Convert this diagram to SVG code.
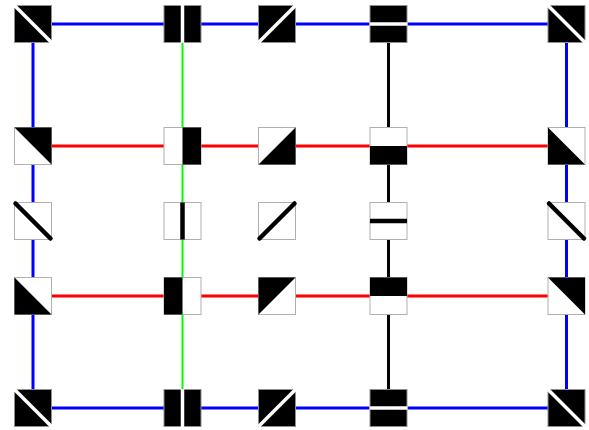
<svg xmlns="http://www.w3.org/2000/svg" xmlns:xlink="http://www.w3.org/1999/xlink" width="589" height="430" viewBox="0 0 589 430">
<style>
.bg{fill:#fff}
.wire{fill:none;stroke-linecap:butt}
.blue{stroke:#0000ff;stroke-width:3}
.red{stroke:#ff0000;stroke-width:3}
.green{stroke:#00ff00;stroke-width:2}
.black{stroke:#000;stroke-width:3}
.fw{fill:#fff;stroke:#b0b0b0;stroke-width:1}
.fb{fill:#000;stroke:#909090;stroke-width:1}
.tri{fill:#000}
.gap{stroke:#fff;stroke-width:3.5}
.bar{stroke:#000;stroke-width:4.5}
.dbar{stroke:#000;stroke-width:4.5;stroke-linecap:round}
</style>
<defs>
<g id="bBack"><rect class="fb" x="0.5" y="0.5" width="37" height="37"/><line class="gap" x1="0" y1="0" x2="38" y2="38"/></g>
<g id="bVgap"><rect class="fb" x="0.5" y="0.5" width="37" height="37"/><line class="gap" x1="19" y1="0" x2="19" y2="38"/></g>
<g id="bFwd"><rect class="fb" x="0.5" y="0.5" width="37" height="37"/><line class="gap" x1="0" y1="38" x2="38" y2="0"/></g>
<g id="bHgap"><rect class="fb" x="0.5" y="0.5" width="37" height="37"/><line class="gap" x1="0" y1="19" x2="38" y2="19"/></g>
</defs>
<rect class="bg" x="0" y="0" width="589" height="430"/>
<g id="connectors">
<line class="wire blue" x1="33" y1="24" x2="566.5" y2="24"/>
<line class="wire blue" x1="33" y1="408" x2="566.5" y2="408"/>
<line class="wire blue" x1="33" y1="24" x2="33" y2="408"/>
<line class="wire blue" x1="566.5" y1="24" x2="566.5" y2="408"/>
<line class="wire red" x1="33" y1="146" x2="566.5" y2="146"/>
<line class="wire red" x1="33" y1="296" x2="566.5" y2="296"/>
<line class="wire green" x1="182.5" y1="24" x2="182.5" y2="408"/>
<line class="wire black" x1="388.5" y1="24" x2="388.5" y2="408"/>
</g>
<!-- row 1 -->
<g id="n11" transform="translate(14,5)"><use xlink:href="#bBack"/></g>
<g id="n12" transform="translate(163.5,5)"><use xlink:href="#bVgap"/></g>
<g id="n13" transform="translate(258,5)"><use xlink:href="#bFwd"/></g>
<g id="n14" transform="translate(369.5,5)"><use xlink:href="#bHgap"/></g>
<g id="n15" transform="translate(547.5,5)"><use xlink:href="#bBack"/></g>
<!-- row 2 -->
<g id="n21" transform="translate(14,127)"><rect class="fw" x="0.5" y="0.5" width="37" height="37"/><polygon class="tri" points="0.5,0.5 37.5,0.5 37.5,37.5"/></g>
<g id="n22" transform="translate(163.5,127)"><rect class="fw" x="0.5" y="0.5" width="37" height="37"/><rect class="tri" x="19" y="0.5" width="18.5" height="37"/></g>
<g id="n23" transform="translate(258,127)"><rect class="fw" x="0.5" y="0.5" width="37" height="37"/><polygon class="tri" points="37.5,0.5 37.5,37.5 0.5,37.5"/></g>
<g id="n24" transform="translate(369.5,127)"><rect class="fw" x="0.5" y="0.5" width="37" height="37"/><rect class="tri" x="0.5" y="19" width="37" height="18.5"/></g>
<g id="n25" transform="translate(547.5,127)"><rect class="fw" x="0.5" y="0.5" width="37" height="37"/><polygon class="tri" points="0.5,0.5 0.5,37.5 37.5,37.5"/></g>
<!-- row 3 -->
<g id="n31" transform="translate(14,202)"><rect class="fw" x="0.5" y="0.5" width="37" height="37"/><line class="dbar" x1="1.5" y1="1.5" x2="36.5" y2="36.5"/></g>
<g id="n32" transform="translate(163.5,202)"><rect class="fw" x="0.5" y="0.5" width="37" height="37"/><line class="bar" x1="19" y1="0.5" x2="19" y2="37.5"/></g>
<g id="n33" transform="translate(258,202)"><rect class="fw" x="0.5" y="0.5" width="37" height="37"/><line class="dbar" x1="1.5" y1="36.5" x2="36.5" y2="1.5"/></g>
<g id="n34" transform="translate(369.5,202)"><rect class="fw" x="0.5" y="0.5" width="37" height="37"/><line class="bar" x1="0.5" y1="19" x2="37.5" y2="19"/></g>
<g id="n35" transform="translate(547.5,202)"><rect class="fw" x="0.5" y="0.5" width="37" height="37"/><line class="dbar" x1="1.5" y1="1.5" x2="36.5" y2="36.5"/></g>
<!-- row 4 -->
<g id="n41" transform="translate(14,277)"><rect class="fw" x="0.5" y="0.5" width="37" height="37"/><polygon class="tri" points="0.5,0.5 0.5,37.5 37.5,37.5"/></g>
<g id="n42" transform="translate(163.5,277)"><rect class="fw" x="0.5" y="0.5" width="37" height="37"/><rect class="tri" x="0.5" y="0.5" width="18.5" height="37"/></g>
<g id="n43" transform="translate(258,277)"><rect class="fw" x="0.5" y="0.5" width="37" height="37"/><polygon class="tri" points="0.5,0.5 37.5,0.5 0.5,37.5"/></g>
<g id="n44" transform="translate(369.5,277)"><rect class="fw" x="0.5" y="0.5" width="37" height="37"/><rect class="tri" x="0.5" y="0.5" width="37" height="18.5"/></g>
<g id="n45" transform="translate(547.5,277)"><rect class="fw" x="0.5" y="0.5" width="37" height="37"/><polygon class="tri" points="0.5,0.5 37.5,0.5 37.5,37.5"/></g>
<!-- row 5 -->
<g id="n51" transform="translate(14,389)"><use xlink:href="#bBack"/></g>
<g id="n52" transform="translate(163.5,389)"><use xlink:href="#bVgap"/></g>
<g id="n53" transform="translate(258,389)"><use xlink:href="#bFwd"/></g>
<g id="n54" transform="translate(369.5,389)"><use xlink:href="#bHgap"/></g>
<g id="n55" transform="translate(547.5,389)"><use xlink:href="#bBack"/></g>
</svg>
